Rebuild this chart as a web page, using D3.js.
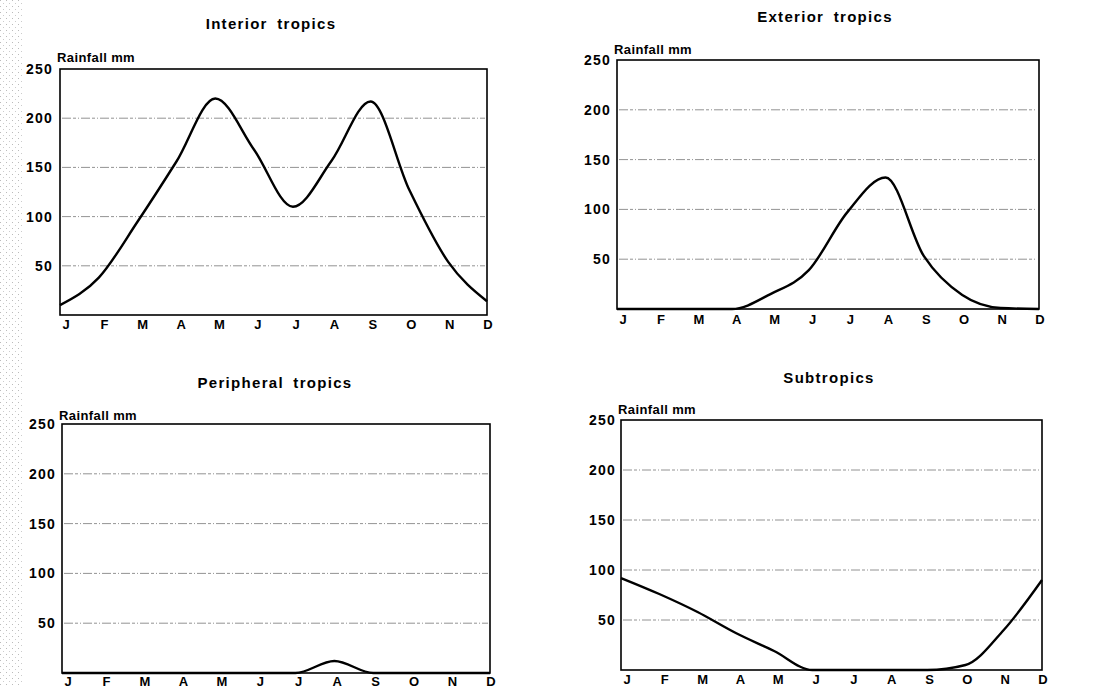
<!DOCTYPE html>
<html>
<head>
<meta charset="utf-8">
<script src="https://cdn.jsdelivr.net/npm/d3@7"></script>
<style>
body { margin: 0; background: #fff; }
text { font-family: Arial, "Liberation Sans", sans-serif; font-weight: bold; fill: #000; }
.title { font-size: 15px; letter-spacing: 1.3px; word-spacing: 4px; }
.unit { font-size: 13px; letter-spacing: 0.4px; }
.tick { font-size: 14px; letter-spacing: 1.2px; }
.month { font-size: 13px; }
</style>
</head>
<body>
<svg id="chart" width="1093" height="687"></svg>
<script>

var months = ['J', 'F', 'M', 'A', 'M', 'J', 'J', 'A', 'S', 'O', 'N', 'D'];
var yTicks = [50, 100, 150, 200, 250];

var titles = ['Interior tropics', 'Exterior tropics', 'Peripheral tropics', 'Subtropics'];

// rainfall (mm) per month
var interior   = [10, 38, 95, 156, 220, 168, 110, 157, 217, 127, 54, 14];
var exterior   = [0, 0, 0, 0, 15, 39, 97, 132, 53, 14, 1, 0];
var peripheral = [0, 0, 0, 0, 0, 0, 0, 12, 0, 0, 0, 0];
var subtropics = [92, 76, 58, 37, 19, 0, 0, 0, 0, 5, 40, 90];

var svg = d3.select('#chart');

// scanned-page stipple on the left edge
var pat = svg.append('defs').append('pattern')
	.attr('id', 'stipple')
	.attr('width', 6)
	.attr('height', 6)
	.attr('patternUnits', 'userSpaceOnUse');
pat.append('rect').attr('x', 0).attr('y', 0).attr('width', 1).attr('height', 1).style('fill', '#bbb');
pat.append('rect').attr('x', 3).attr('y', 3).attr('width', 1).attr('height', 1).style('fill', '#ccc');
svg.append('rect')
	.attr('x', 0)
	.attr('y', 0)
	.attr('width', 22)
	.attr('height', 687)
	.style('fill', 'url(#stipple)');

// one entry per panel: box edges, title spot, label offsets
var panels = [
	{ data: interior,   left: 60,  right: 487,  top: 69,  bottom: 315, tx: 271, ty: 29,  unitY: 62,  tickX: 53,  monthY: 329 },
	{ data: exterior,   left: 617, right: 1039, top: 60,  bottom: 309, tx: 825, ty: 22,  unitY: 54,  tickX: 611, monthY: 324 },
	{ data: peripheral, left: 62,  right: 490,  top: 424, bottom: 673, tx: 275, ty: 388, unitY: 420, tickX: 56,  monthY: 686 },
	{ data: subtropics, left: 621, right: 1042, top: 420, bottom: 670, tx: 829, ty: 383, unitY: 414, tickX: 616, monthY: 684 }
];

panels.forEach(function(p, k) {

	var g = svg.append('g');

	var x = d3.scalePoint()
		.domain(d3.range(months.length))
		.range([p.left, p.right]);

	var xLabel = d3.scalePoint()
		.domain(d3.range(months.length))
		.range([p.left + 6, p.right + 1]);

	var y = d3.scaleLinear()
		.domain([0, 250])
		.range([p.bottom, p.top]);

	g.append('text')
		.attr('x', p.tx)
		.attr('y', p.ty)
		.attr('class', 'title')
		.attr('text-anchor', 'middle')
		.text(titles[k]);

	g.append('text')
		.attr('x', p.left - 3)
		.attr('y', p.unitY)
		.attr('class', 'unit')
		.text('Rainfall mm');

	// dashed grid
	g.selectAll('.grid')
		.data(yTicks.slice(0, 4))
		.enter().append('line')
		.attr('x1', p.left + 2)
		.attr('x2', p.right - 2)
		.attr('y1', function(d) { return y(d); })
		.attr('y2', function(d) { return y(d); })
		.attr('stroke', '#777')
		.attr('stroke-width', 0.8)
		.style('stroke-dasharray', '9,2,3,2,1,2');

	g.selectAll('.tick')
		.data(yTicks)
		.enter().append('text')
		.attr('class', 'tick')
		.attr('x', p.tickX)
		.attr('y', function(d) { return y(d) + 5; })
		.attr('text-anchor', 'end')
		.text(function(d) { return d; });

	g.selectAll('.month')
		.data(months)
		.enter().append('text')
		.attr('class', 'month')
		.attr('x', function(d, i) { return xLabel(i); })
		.attr('y', p.monthY)
		.attr('text-anchor', 'middle')
		.text(function(d) { return d; });

	var line = d3.line()
		.x(function(d, i) { return x(i); })
		.y(function(d) { return y(d); })
		.curve(d3.curveMonotoneX);

	g.append('path')
		.datum(p.data)
		.attr('d', line)
		.style('fill', 'none')
		.attr('stroke', '#000')
		.attr('stroke-width', 2.4)
		.attr('stroke-linejoin', 'round');

	g.append('rect')
		.attr('x', p.left)
		.attr('y', p.top)
		.attr('width', p.right - p.left)
		.attr('height', p.bottom - p.top)
		.style('fill', 'none')
		.attr('stroke', '#000')
		.attr('stroke-width', 1.6);
});

</script>
</body>
</html>
